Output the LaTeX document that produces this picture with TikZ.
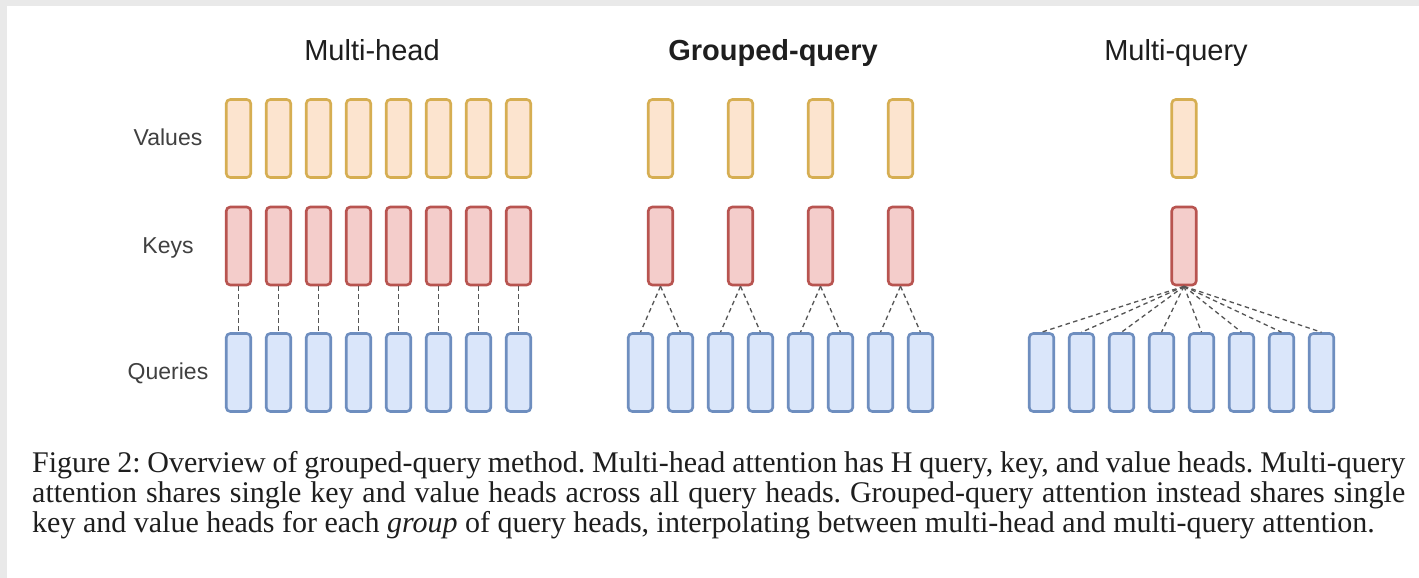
\documentclass[tikz,border=0pt]{standalone}
\usepackage{fontspec}
\setmainfont{Liberation Serif}
\newfontfamily\headfont{Liberation Sans}
\definecolor{pagegray}{HTML}{E9E9E9}
\definecolor{valfill}{HTML}{FCE4CF}
\definecolor{valdraw}{HTML}{D6AE52}
\definecolor{keyfill}{HTML}{F4CDCB}
\definecolor{keydraw}{HTML}{B85450}
\definecolor{qryfill}{HTML}{DAE6FA}
\definecolor{qrydraw}{HTML}{6E8EBF}
\definecolor{linkgray}{HTML}{555555}
\definecolor{inkdark}{HTML}{1E1E1E}
\tikzset{
  headbox/.style={draw, line width=2.6pt, rounded corners=4pt,
    minimum width=24.5pt, minimum height=78pt, inner sep=0pt},
  valbox/.style={headbox, fill=valfill, draw=valdraw},
  keybox/.style={headbox, fill=keyfill, draw=keydraw},
  qrybox/.style={headbox, fill=qryfill, draw=qrydraw},
  link/.style={draw=linkgray, line width=1.3pt, dash pattern=on 4.5pt off 3.5pt},
  title/.style={font=\headfont\fontsize{29}{34}\selectfont, text=inkdark, anchor=base, inner sep=0pt},
  rowlabel/.style={font=\headfont\fontsize{23}{28}\selectfont, text=inkdark!85, anchor=base, inner sep=0pt},
  captionline/.style={font=\frenchspacing\fontsize{30}{30}\selectfont, text=inkdark, anchor=base west, inner sep=0pt}
}
\begin{document}
\begin{tikzpicture}[x=1pt, y=-1pt]
  % page backdrop and white sheet
  \fill[pagegray] (0,0) rectangle (1419,578);
  \fill[white] (7,6) rectangle (1419,578);
  \useasboundingbox (0,0) rectangle (1419,578);

  % column titles
  \node[title] (tmh) at (372,60) {Multi-head};
  \node[title] (tgq) at (773,60) {\bfseries Grouped-query};
  \node[title] (tmq) at (1176,60) {Multi-query};

  % row labels
  \node[rowlabel] (lv) at (168,145) {Values};
  \node[rowlabel] (lk) at (168,253) {Keys};
  \node[rowlabel] (lq) at (168,379) {Queries};

  % multi-head: one key and value per query
  \foreach \i in {1,...,8} {
    \node[valbox] (mhv\i) at ({238.5+40*(\i-1)},138.5) {};
    \node[keybox] (mhk\i) at ({238.5+40*(\i-1)},246) {};
    \node[qrybox] (mhq\i) at ({238.5+40*(\i-1)},372.5) {};
    \draw[link] (mhk\i.south) -- (mhq\i.north);
  }

  % grouped-query: one key and value per pair of queries
  \foreach \i in {1,...,8} {
    \node[qrybox] (gqq\i) at ({640.5+40*(\i-1)},372.5) {};
  }
  \foreach \g in {1,...,4} {
    \node[valbox] (gqv\g) at ({660.5+80*(\g-1)},138.5) {};
    \node[keybox] (gqk\g) at ({660.5+80*(\g-1)},246) {};
  }
  \foreach \g/\a/\b in {1/1/2, 2/3/4, 3/5/6, 4/7/8} {
    \draw[link] (gqk\g.south) -- (gqq\a.north);
    \draw[link] (gqk\g.south) -- (gqq\b.north);
  }

  % multi-query: a single key and value shared by all queries
  \node[valbox] (mqv) at (1184,138.5) {};
  \node[keybox] (mqk) at (1184,246) {};
  \foreach \i in {1,...,8} {
    \node[qrybox] (mqq\i) at ({1041.5+40*(\i-1)},372.5) {};
    \draw[link] (mqk.south) -- (mqq\i.north);
  }

  % caption
  \node[captionline] (c1) at (32,472) {\makebox[1373pt][s]{Figure 2: Overview of grouped-query method. Multi-head attention has H query, key, and value heads. Multi-query}};
  \node[captionline] (c2) at (32,502) {\makebox[1373pt][s]{attention shares single key and value heads across all query heads. Grouped-query attention instead shares single}};
  \node[captionline] (c3) at (32,532) {key and value heads for each \textit{group} of query heads, interpolating between multi-head and multi-query attention.};
\end{tikzpicture}
\end{document}
